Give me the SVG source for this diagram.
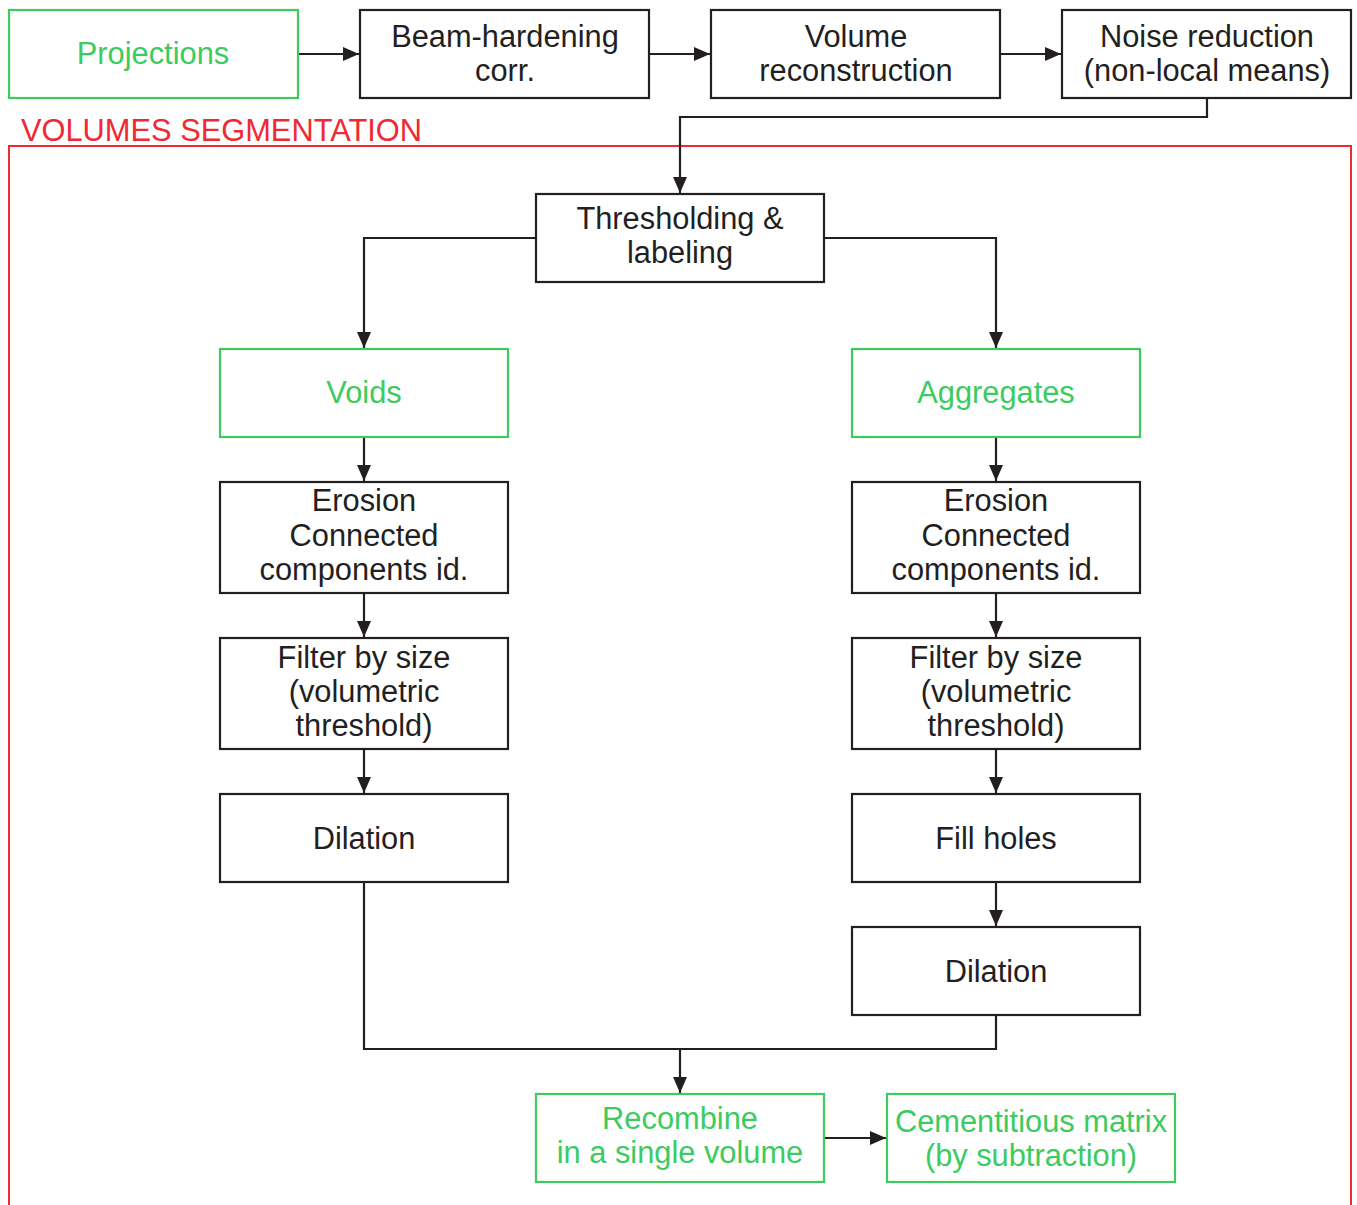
<svg xmlns="http://www.w3.org/2000/svg" width="1357" height="1205" viewBox="0 0 1357 1205">
<style>
.n{fill:#fff;stroke:#231f20;stroke-width:2.2}
.g{fill:#fff;stroke:#3ccb5e;stroke-width:2.2}
text{font-family:"Liberation Sans",Arial,sans-serif;font-size:30.8px;text-anchor:middle;fill:#231f20}
.gt{fill:#3ccb5e}
.c{fill:none;stroke:#231f20;stroke-width:2.2}
</style>
<defs>
<marker id="a" markerWidth="16" markerHeight="14" refX="16" refY="7" orient="auto" markerUnits="userSpaceOnUse" viewBox="0 0 16 14">
<path d="M0,0 L16,7 L0,14 z" fill="#231f20"/>
</marker>
</defs>
<g id="seg-frame">
<rect x="9" y="146" width="1342" height="1070" fill="none" stroke="#ee2a33" stroke-width="2"/>
<text x="21" y="141" style="text-anchor:start;fill:#ee2a33">VOLUMES SEGMENTATION</text>
</g>
<g id="connectors">
<path class="c" d="M298,54 H359" marker-end="url(#a)"/>
<path class="c" d="M649,54 H710" marker-end="url(#a)"/>
<path class="c" d="M1000,54 H1061" marker-end="url(#a)"/>
<path class="c" d="M1207,98 V117 H680 V193" marker-end="url(#a)"/>
<path class="c" d="M536,238 H364 V348" marker-end="url(#a)"/>
<path class="c" d="M824,238 H996 V348" marker-end="url(#a)"/>
<path class="c" d="M364,437 V481" marker-end="url(#a)"/>
<path class="c" d="M364,593 V637" marker-end="url(#a)"/>
<path class="c" d="M364,749 V793" marker-end="url(#a)"/>
<path class="c" d="M996,437 V481" marker-end="url(#a)"/>
<path class="c" d="M996,593 V637" marker-end="url(#a)"/>
<path class="c" d="M996,749 V793" marker-end="url(#a)"/>
<path class="c" d="M996,882 V926" marker-end="url(#a)"/>
<path class="c" d="M364,882 V1049 H996 V1015"/>
<path class="c" d="M680,1049 V1093" marker-end="url(#a)"/>
<path class="c" d="M824,1138 H886" marker-end="url(#a)"/>
</g>
<g id="projections"><rect class="g" x="9" y="10" width="289" height="88"/><text class="gt" x="153" y="64">Projections</text></g>
<g id="beam"><rect class="n" x="360" y="10" width="289" height="88"/><text x="505" y="47">Beam-hardening</text><text x="505" y="81">corr.</text></g>
<g id="volrec"><rect class="n" x="711" y="10" width="289" height="88"/><text x="856" y="47">Volume</text><text x="856" y="81">reconstruction</text></g>
<g id="noise"><rect class="n" x="1062" y="10" width="289" height="88"/><text x="1207" y="47">Noise reduction</text><text x="1207" y="81">(non-local means)</text></g>
<g id="thresh"><rect class="n" x="536" y="194" width="288" height="88"/><text x="680" y="229">Thresholding &amp;</text><text x="680" y="263">labeling</text></g>
<g id="voids"><rect class="g" x="220" y="349" width="288" height="88"/><text class="gt" x="364" y="403">Voids</text></g>
<g id="aggregates"><rect class="g" x="852" y="349" width="288" height="88"/><text class="gt" x="996" y="403">Aggregates</text></g>
<g id="erosion-l"><rect class="n" x="220" y="482" width="288" height="111"/><text x="364" y="511">Erosion</text><text x="364" y="546">Connected</text><text x="364" y="580">components id.</text></g>
<g id="erosion-r"><rect class="n" x="852" y="482" width="288" height="111"/><text x="996" y="511">Erosion</text><text x="996" y="546">Connected</text><text x="996" y="580">components id.</text></g>
<g id="filter-l"><rect class="n" x="220" y="638" width="288" height="111"/><text x="364" y="668">Filter by size</text><text x="364" y="702">(volumetric</text><text x="364" y="736">threshold)</text></g>
<g id="filter-r"><rect class="n" x="852" y="638" width="288" height="111"/><text x="996" y="668">Filter by size</text><text x="996" y="702">(volumetric</text><text x="996" y="736">threshold)</text></g>
<g id="dilation-l"><rect class="n" x="220" y="794" width="288" height="88"/><text x="364" y="849">Dilation</text></g>
<g id="fillholes"><rect class="n" x="852" y="794" width="288" height="88"/><text x="996" y="849">Fill holes</text></g>
<g id="dilation-r"><rect class="n" x="852" y="927" width="288" height="88"/><text x="996" y="982">Dilation</text></g>
<g id="recombine"><rect class="g" x="536" y="1094" width="288" height="88"/><text class="gt" x="680" y="1129">Recombine</text><text class="gt" x="680" y="1163">in a single volume</text></g>
<g id="cement"><rect class="g" x="887" y="1094" width="288" height="88"/><text class="gt" x="1031" y="1132">Cementitious matrix</text><text class="gt" x="1031" y="1166">(by subtraction)</text></g>
</svg>
